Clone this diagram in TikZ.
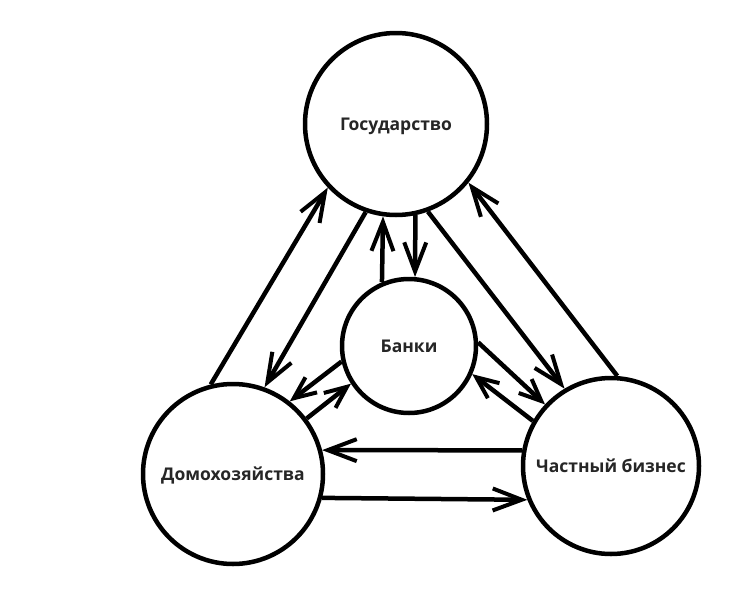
\documentclass[tikz,border=0pt]{standalone}
\usepackage{fontspec}
\setmainfont{Open Sans}
\usepackage{tikz}
\usepackage{xcolor}
\usetikzlibrary{arrows.meta}
\definecolor{ink}{HTML}{000000}
\definecolor{labelgray}{HTML}{262626}
\tikzset{
  sector/.style={circle,draw=ink,fill=white,line width=4.5pt,inner sep=0pt,
                 text=labelgray,text depth=0pt,
                 font=\bfseries\fontsize{17.5}{20}\selectfont},
  flowarr/.style={-{Straight Barb[length=29pt,width=22pt,line width=4pt]},
                  line width=4.5pt,draw=ink},
  shortarr/.style={-{Straight Barb[length=22pt,width=19pt,line width=4pt]},
                   line width=4.5pt,draw=ink}
}
\begin{document}
\begin{tikzpicture}[x=1pt,y=-1pt]
    \path[use as bounding box,fill=white] (0,0) rectangle (750,608);
    \node[sector,minimum size=182pt] (gos) at (396,124) {Государство};
    \node[sector,minimum size=134pt] (bank) at (409,346) {Банки};
    \node[sector,minimum size=180pt] (dom) at (233,474) {Домохозяйства};
    \node[sector,minimum size=176pt] (biz) at (611,466) {Частный бизнес};

    \draw[flowarr] (dom.104) -- (gos.223);
    \draw[flowarr] (gos.251) -- (dom.70);
    \draw[flowarr] (bank.113) -- (gos.262);
    \draw[flowarr] (gos.282) -- (bank.85);
    \draw[shortarr] (bank.193) -- (dom.52);
    \draw[shortarr] (dom.37) -- (bank.213);
    \draw[flowarr] (gos.290) -- (biz.121);
    \draw[flowarr] (biz.86) -- (gos.321);
    \draw[shortarr] (bank.3) -- (biz.137);
    \draw[shortarr] (biz.150) -- (bank.336);
    \draw[flowarr] (biz.170) -- (dom.15);
    \draw[flowarr] (dom.345) -- (biz.202);
  \end{tikzpicture}
\end{document}
